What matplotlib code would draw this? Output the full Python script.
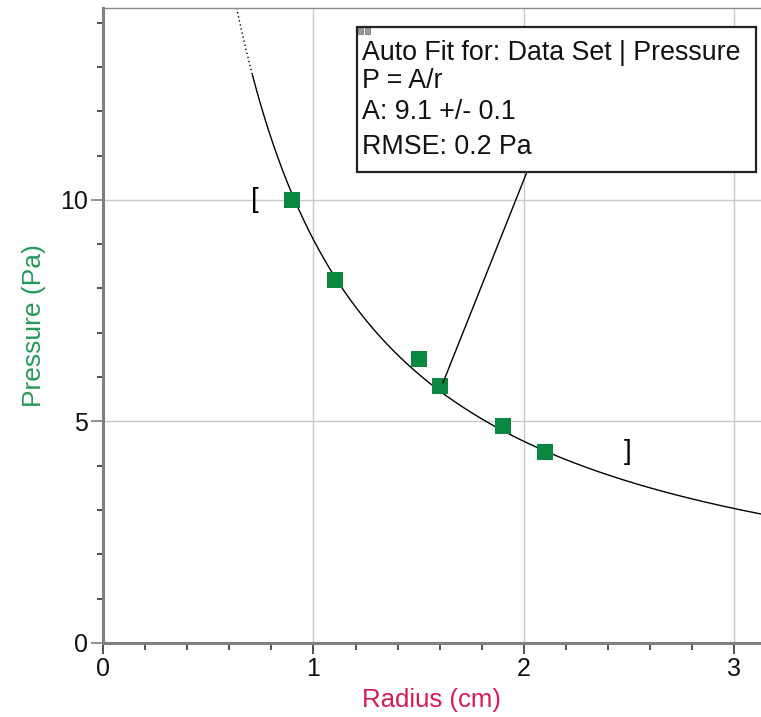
import numpy as np
import matplotlib
matplotlib.use("Agg")
import matplotlib.pyplot as plt
from matplotlib.patches import Rectangle
from matplotlib.ticker import MultipleLocator

plt.rcParams['font.family'] = ['Liberation Sans', 'DejaVu Sans']

radius = [0.9, 1.1, 1.5, 1.6, 1.9, 2.1]
pressure = [10.0, 8.2, 6.4, 5.8, 4.9, 4.3]
fit_A = 9.1
fit_range = [0.72, 2.49]
box_lines = ["Auto Fit for: Data Set | Pressure", "P = A/r", "A: 9.1 +/- 0.1", "RMSE: 0.2 Pa"]

xmin, xmax = 0.0, 3.126
ymin, ymax = 0.0, 14.33

fig = plt.figure(figsize=(7.61, 7.17), dpi=100)
ax = fig.add_axes([103/761, (717-643)/717, (761-103)/761, (643-8)/717])
ax.set_xlim(xmin, xmax)
ax.set_ylim(ymin, ymax)

ax.xaxis.set_major_locator(MultipleLocator(1))
ax.yaxis.set_major_locator(MultipleLocator(5))
ax.xaxis.set_minor_locator(MultipleLocator(0.2))
ax.yaxis.set_minor_locator(MultipleLocator(1))
for gx in [1, 2, 3]:
    ax.axvline(gx, color='#c8c8c8', lw=1.0, zorder=0)
for gy in [5, 10]:
    ax.axhline(gy, color='#c8c8c8', lw=1.0, zorder=0)

for s in ['left', 'bottom']:
    ax.spines[s].set_color('#7f7f7f')
    ax.spines[s].set_linewidth(2.2)
ax.spines['top'].set_color('#8a8a8a')
ax.spines['top'].set_linewidth(1.0)
ax.spines['right'].set_visible(False)

ax.tick_params(axis='both', which='major', length=8, width=1.2, color='#333333',
               labelsize=18, labelcolor='#111111', direction='out', pad=2)
ax.tick_params(axis='both', which='minor', length=5, width=1.2, color='#333333', direction='out')
ax.tick_params(axis='y', which='major', color='#7f7f7f', length=9)
ax.tick_params(axis='y', which='minor', length=4)

ax.set_xlabel("Radius (cm)", color='#d81b52', fontsize=18.5, labelpad=5)
ax.set_ylabel("Pressure (Pa)", color='#23995a', fontsize=19, labelpad=10)

# fit curve
r_dot = np.linspace(fit_A / ymax, 0.71, 50)
r_sol = np.linspace(0.71, xmax, 400)
ax.plot(r_dot, fit_A / r_dot, color='black', lw=1.0, ls=(0, (1, 2)), zorder=2)
ax.plot(r_sol, fit_A / r_sol, color='black', lw=1.0, zorder=2)

# data
ax.scatter(radius, pressure, marker='s', s=120, color='#0a8740', zorder=3, linewidths=0)

# brackets
ax.text(fit_range[0], pressure[0], "[", fontsize=20, ha='center', va='center', color='black')
ax.text(fit_range[1], pressure[-1], "]", fontsize=20, ha='center', va='center', color='black')

# fit box
bx0, bx1 = (357-103)/658, (756-103)/658
by0, by1 = (643-172)/635, (643-27)/635
ax.plot([2.014, 1.615], [10.63, 5.87], color='black', lw=1.0, zorder=4)
ax.add_patch(Rectangle((bx0, by0), bx1-bx0, by1-by0, transform=ax.transAxes,
                       facecolor='white', edgecolor='#222222', lw=1.6, zorder=5, clip_on=False))
for dx in [0, 7]:
    ax.add_patch(Rectangle(((358+dx-103)/658, (643-34)/635), 5/658, 6/635, transform=ax.transAxes,
                           facecolor='#9a9a9a', edgecolor='#666666', lw=0.5, zorder=6, clip_on=False))
line_y = [53, 81, 112, 147]
for t, yy in zip(box_lines, line_y):
    ax.text((362-103)/658, (643-yy)/635, t, transform=ax.transAxes, fontsize=19.3,
            ha='left', va='center', color='#111111', zorder=6)

fig.savefig("out.png", dpi=100)
